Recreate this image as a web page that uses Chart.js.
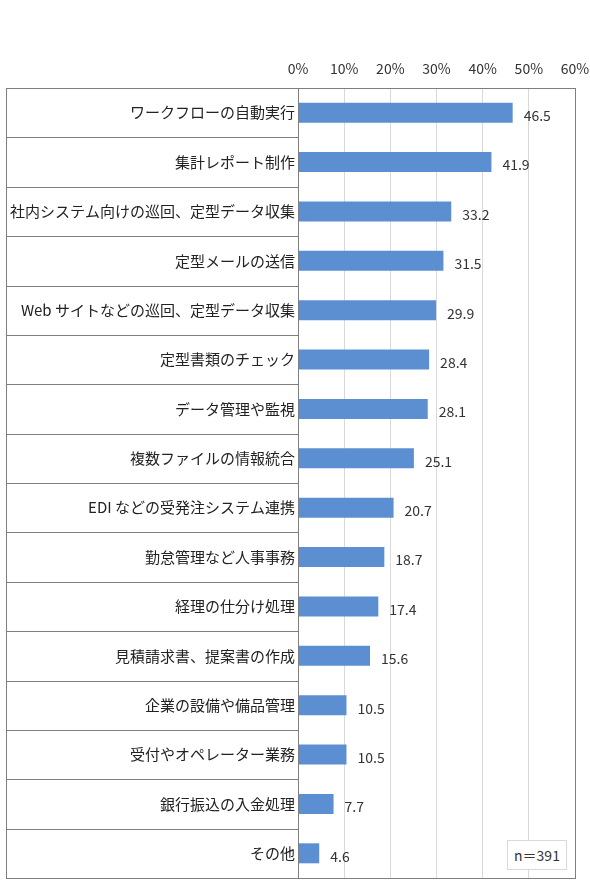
<!DOCTYPE html>
<html>
<head>
<meta charset="utf-8">
<script src="https://cdn.jsdelivr.net/npm/chart.js@4/dist/chart.umd.min.js"></script>
<style>
html, body { margin: 0; padding: 0; background: #fff; }
#wrap { position: relative; width: 590px; height: 896px; }
#note {
    position: absolute; left: 507px; top: 840px; width: 60px; height: 30px;
    border: 1px solid #d9d9d9; background: #fff; box-sizing: border-box;
    font: 14px "Noto Sans CJK JP", sans-serif; color: #333;
    display: flex; align-items: center; justify-content: center;
}
</style>
</head>
<body>
<div id="wrap">
    <canvas id="chart" width="590" height="896"></canvas>
    <div id="note">n＝391</div>
</div>
<script>
let categories = [
    'ワークフローの自動実行',
    '集計レポート制作',
    '社内システム向けの巡回、定型データ収集',
    '定型メールの送信',
    'Web サイトなどの巡回、定型データ収集',
    '定型書類のチェック',
    'データ管理や監視',
    '複数ファイルの情報統合',
    'EDI などの受発注システム連携',
    '勤怠管理など人事事務',
    '経理の仕分け処理',
    '見積請求書、提案書の作成',
    '企業の設備や備品管理',
    '受付やオペレーター業務',
    '銀行振込の入金処理',
    'その他'
];
let values = [46.5, 41.9, 33.2, 31.5, 29.9, 28.4, 28.1, 25.1, 20.7, 18.7, 17.4, 15.6, 10.5, 10.5, 7.7, 4.6];
let tickLabels = ['0%', '10%', '20%', '30%', '40%', '50%', '60%'];

const jpFont = '"Noto Sans CJK JP", sans-serif';

// left table: outer box and row separators in the label column
let tablePlugin = {
    id: 'table',
    afterDraw(chart) {
        let ctx = chart.ctx;
        let area = chart.chartArea;
        let yScale = chart.scales.y;
        let left = 6;
        ctx.save();
        ctx.strokeStyle = '#7f7f7f';
        ctx.lineWidth = 1;
        for (let i = 1; i < categories.length; i++) {
            let y = Math.round((yScale.getPixelForValue(i - 1) + yScale.getPixelForValue(i)) / 2) + 0.5;
            ctx.beginPath();
            ctx.moveTo(left, y);
            ctx.lineTo(area.left, y);
            ctx.stroke();
        }
        ctx.beginPath();
        ctx.moveTo(area.left + 0.5, area.top);
        ctx.lineTo(area.left + 0.5, area.bottom);
        ctx.stroke();
        ctx.strokeRect(left + 0.5, area.top + 0.5, area.right - left, area.bottom - area.top);
        ctx.restore();
    }
};

// value labels to the right of each bar
let valueLabels = {
    id: 'valueLabels',
    afterDatasetsDraw(chart) {
        let ctx = chart.ctx;
        let meta = chart.getDatasetMeta(0);
        ctx.save();
        ctx.font = '14px ' + jpFont;
        ctx.fillStyle = '#333';
        ctx.textAlign = 'left';
        ctx.textBaseline = 'middle';
        meta.data.forEach((bar, i) => {
            ctx.fillText(values[i].toFixed(1), bar.x + 11, bar.y + 3);
        });
        ctx.restore();
    }
};

new Chart(document.getElementById('chart'), {
    type: 'bar',
    data: {
        labels: categories,
        datasets: [{
            data: values,
            backgroundColor: '#5b8fd2',
            barPercentage: 0.405,
            categoryPercentage: 1
        }]
    },
    options: {
        indexAxis: 'y',
        responsive: false,
        animation: false,
        layout: { padding: { left: 6, right: 0, top: 58, bottom: 18 } },
        plugins: {
            legend: { display: false },
            tooltip: { enabled: false }
        },
        scales: {
            x: {
                position: 'top',
                min: 0,
                max: 60,
                ticks: {
                    stepSize: 10,
                    padding: 11,
                    color: '#333',
                    font: { family: jpFont, size: 14 },
                    callback: (v, i) => tickLabels[i]
                },
                grid: { color: '#d9d9d9', drawTicks: false },
                border: { display: false },
                afterFit(scale) {
                    scale.height = 30;
                    scale.paddingLeft = 0;
                    scale.paddingRight = 15;
                }
            },
            y: {
                ticks: {
                    padding: 3,
                    color: '#222',
                    font: { family: jpFont, size: 15 }
                },
                grid: { display: false, drawTicks: false },
                border: { display: false },
                afterFit(scale) {
                    scale.width = 292;
                    scale.paddingTop = 0;
                    scale.paddingBottom = 0;
                }
            }
        }
    },
    plugins: [tablePlugin, valueLabels]
});
</script>
</body>
</html>
